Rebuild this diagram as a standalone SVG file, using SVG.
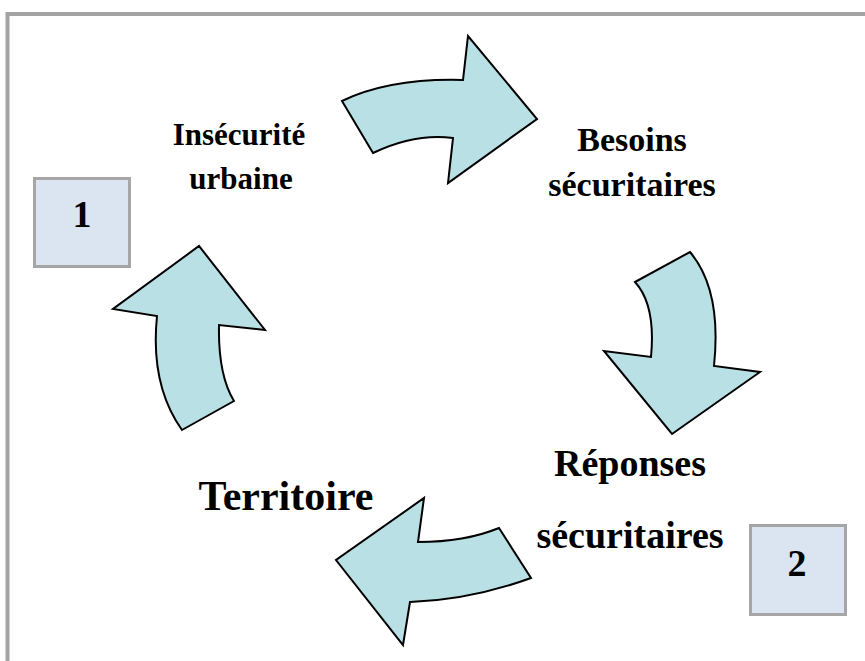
<svg xmlns="http://www.w3.org/2000/svg" width="865" height="661" viewBox="0 0 865 661">
<style>
.arrow{fill:#b9e0e4;stroke:#000;stroke-width:2;stroke-linejoin:miter}
.lbl{font-family:"Liberation Serif","Times New Roman",serif;font-weight:bold;fill:#000;text-anchor:middle}
.box{fill:#dbe5f1;stroke:#a6a6a6;stroke-width:3}
</style>
<rect x="0" y="0" width="865" height="661" fill="#fff"/>
<path d="M7.5 661 V14 H865" fill="none" stroke="#a3a3a3" stroke-width="4"/>
<g id="connectors">
<path id="arrow-top" class="arrow" d="M342 101 L373 153 Q415 133 453 138 L448 183 L537 119 L468 36 L463 80 Q390 78 342 101 Z"/>
<path id="arrow-right" class="arrow" d="M635 282 L690 252 Q722 290 714 366 L760 372 L672 434 L604 351 L651 357 Q656 305 635 282 Z"/>
<path id="arrow-bottom" class="arrow" d="M499 528 L531 578 Q470 600 410 602 L403 645 L336 560 L424 498 L418 542 Q465 542 499 528 Z"/>
<path id="arrow-left" class="arrow" d="M182 430 L234 401 Q218 375 219 325 L265 330 L199 246 L113 309 L157 316 Q150 385 182 430 Z"/>
</g>
<g id="node-insecurite">
<text class="lbl" x="239" y="145" font-size="31">Insécurité</text>
<text class="lbl" x="241" y="189" font-size="31">urbaine</text>
</g>
<g id="node-besoins">
<text class="lbl" x="632" y="151" font-size="34">Besoins</text>
<text class="lbl" x="632" y="196" font-size="34">sécuritaires</text>
</g>
<g id="node-reponses">
<text class="lbl" x="630" y="476" font-size="38">Réponses</text>
<text class="lbl" x="630" y="548" font-size="38">sécuritaires</text>
</g>
<g id="node-territoire">
<text class="lbl" x="286" y="510" font-size="42">Territoire</text>
</g>
<g id="box-1">
<rect class="box" x="34.5" y="178.5" width="95" height="88"/>
<text class="lbl" x="82" y="227" font-size="38">1</text>
</g>
<g id="box-2">
<rect class="box" x="750.5" y="525.5" width="95" height="89"/>
<text class="lbl" x="797" y="576" font-size="38">2</text>
</g>
</svg>
